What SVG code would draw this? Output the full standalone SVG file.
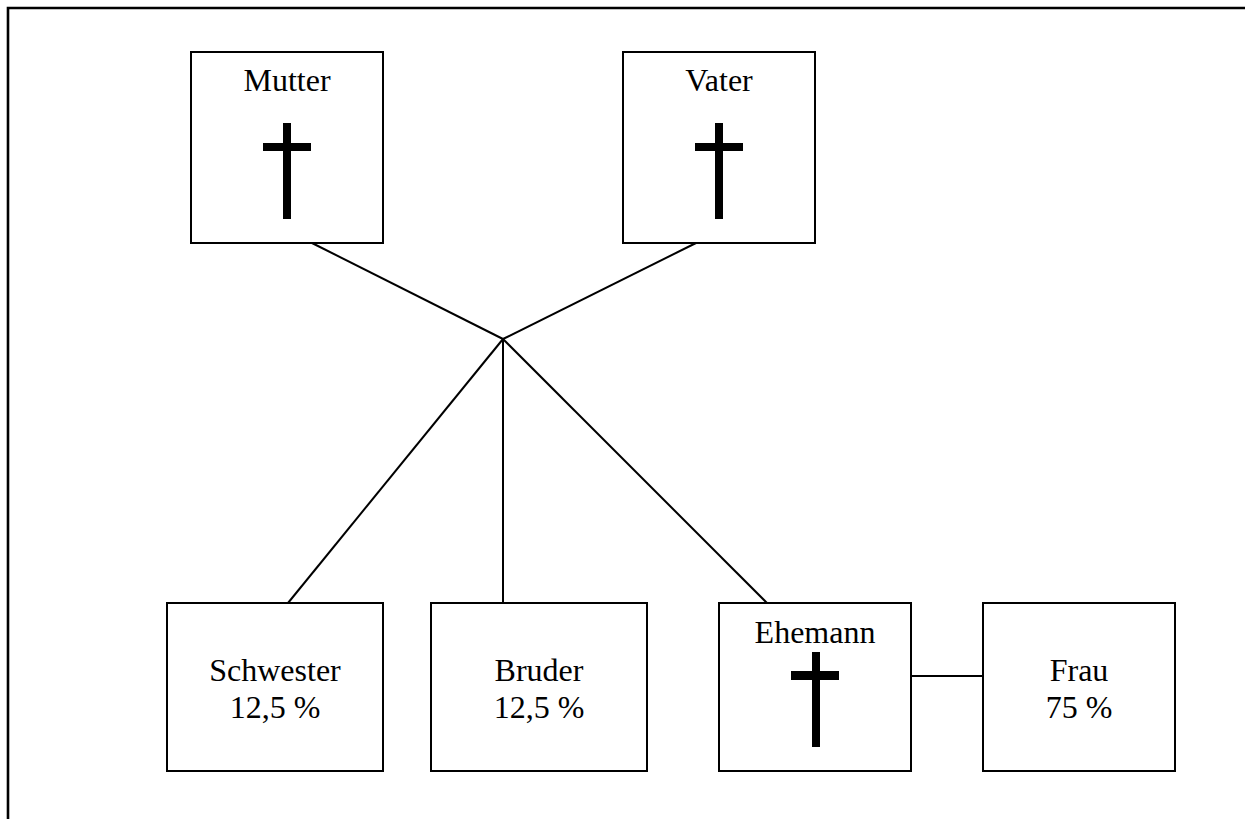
<svg xmlns="http://www.w3.org/2000/svg" width="1245" height="819" viewBox="0 0 1245 819">
<style>
.box{fill:#fff;stroke:#000;stroke-width:2}
.lbl{font-family:"Liberation Serif","Times New Roman",serif;font-size:32px;fill:#000;text-anchor:middle}
.cross{fill:#000}
.conn{stroke:#000;stroke-width:2;fill:none}
</style>
<rect width="1245" height="819" fill="#fff"/>
<path d="M8,819 V8 H1245" fill="none" stroke="#000" stroke-width="2.6"/>
<g id="connectors">
<line class="conn" x1="312" y1="243" x2="503" y2="339"/>
<line class="conn" x1="696" y1="243" x2="503" y2="339"/>
<line class="conn" x1="503" y1="339" x2="288" y2="603"/>
<line class="conn" x1="503" y1="339" x2="503" y2="603"/>
<line class="conn" x1="503" y1="339" x2="767" y2="603"/>
<line class="conn" x1="911" y1="676" x2="983" y2="676"/>
</g>
<g id="mutter">
<rect class="box" x="191" y="52" width="192" height="191"/>
<text class="lbl" x="287" y="91">Mutter</text>
<rect class="cross" x="283" y="123" width="8" height="96"/>
<rect class="cross" x="263" y="143" width="48" height="8"/>
</g>
<g id="vater">
<rect class="box" x="623" y="52" width="192" height="191"/>
<text class="lbl" x="719" y="91">Vater</text>
<rect class="cross" x="715" y="123" width="8" height="96"/>
<rect class="cross" x="695" y="143" width="48" height="8"/>
</g>
<g id="schwester">
<rect class="box" x="167" y="603" width="216" height="168"/>
<text class="lbl" x="275" y="681">Schwester</text>
<text class="lbl" x="275" y="718">12,5 %</text>
</g>
<g id="bruder">
<rect class="box" x="431" y="603" width="216" height="168"/>
<text class="lbl" x="539" y="681">Bruder</text>
<text class="lbl" x="539" y="718">12,5 %</text>
</g>
<g id="ehemann">
<rect class="box" x="719" y="603" width="192" height="168"/>
<text class="lbl" x="815" y="643">Ehemann</text>
<rect class="cross" x="812" y="652" width="8" height="95"/>
<rect class="cross" x="791" y="671" width="48" height="9"/>
</g>
<g id="frau">
<rect class="box" x="983" y="603" width="192" height="168"/>
<text class="lbl" x="1079" y="681">Frau</text>
<text class="lbl" x="1079" y="718">75 %</text>
</g>
</svg>
